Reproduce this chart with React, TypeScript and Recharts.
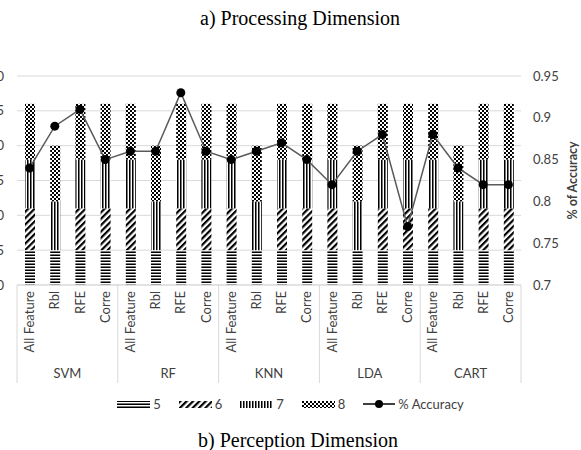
import React from 'react';
import { ComposedChart, Bar, Line, XAxis, YAxis, CartesianGrid, Legend } from 'recharts';

const groups = ['SVM', 'RF', 'KNN', 'LDA', 'CART'];
const methods = ['All Feature', 'Rbl', 'RFE', 'Corre'];

const seg5 = [5, 5, 5, 5, 5, 5, 5, 5, 5, 5, 5, 5, 5, 5, 5, 5, 5, 5, 5, 5];
const seg6 = [6, 0, 6, 6, 6, 0, 6, 6, 6, 0, 6, 6, 6, 0, 6, 6, 6, 0, 6, 6];
const seg7 = [7, 7, 7, 7, 7, 7, 7, 7, 7, 7, 7, 7, 7, 7, 7, 7, 7, 7, 7, 7];
const seg8 = [8, 8, 8, 8, 8, 8, 8, 8, 8, 8, 8, 8, 8, 8, 8, 8, 8, 8, 8, 8];
const accuracy = [
  0.84, 0.89, 0.91, 0.85,
  0.86, 0.86, 0.93, 0.86,
  0.85, 0.86, 0.87, 0.85,
  0.82, 0.86, 0.88, 0.77,
  0.88, 0.84, 0.82, 0.82,
];
const leftTicks = [0, 5, 10, 15, 20, 25, 30];
const rightTicks = [0.7, 0.75, 0.8, 0.85, 0.9, 0.95];

const data = accuracy.map((acc, i) => ({
  key: `${groups[Math.floor(i / 4)]}-${methods[i % 4]}`,
  group: groups[Math.floor(i / 4)],
  method: methods[i % 4],
  s5: seg5[i],
  s6: seg6[i],
  s7: seg7[i],
  s8: seg8[i],
  acc,
}));

const FONT = 'Lato, "Open Sans", sans-serif';
const TEXT = '#404040';

const CatTick = (props: any) => {
  const { x, y, payload, index } = props;
  const i = typeof index === 'number' ? index : payload.index;
  const half = payload && payload.offset ? payload.offset : 12.6;
  const row = data[i];
  if (!row) return null;
  const pos = i % 4;
  return (
    <g>
      <text
        transform={`translate(${x},${y + 6}) rotate(-90)`}
        textAnchor="end"
        dy="0.36em"
        fontSize={13}
        fontFamily={FONT}
        fill={TEXT}
      >
        {row.method}
      </text>
      {pos === 0 && <line x1={x - half} x2={x - half} y1={y} y2={y + 98} stroke="#d9d9d9" />}
      {pos === 3 && i === data.length - 1 && (
        <line x1={x + half} x2={x + half} y1={y} y2={y + 98} stroke="#d9d9d9" />
      )}
      {pos === 1 && (
        <text x={x + half} y={y + 93} textAnchor="middle" fontSize={13} fontFamily={FONT} fill={TEXT}>
          {row.group}
        </text>
      )}
    </g>
  );
};

const RightLabel = (props: any) => {
  const vb = props.viewBox || { x: 521, y: 76, width: 60, height: 209 };
  const cx = vb.x + vb.width - 9;
  const cy = vb.y + vb.height / 2;
  return (
    <text
      transform={`translate(${cx},${cy}) rotate(-90)`}
      textAnchor="middle"
      dy="0.36em"
      fontSize={12.5}
      fontWeight="bold"
      fontFamily={FONT}
      fill={TEXT}
    >
      % of Accuracy
    </text>
  );
};

const LegendContent = (props: any) => {
  const raw = props.payload || [];
  const payload = [...raw.filter((e: any) => e.type !== 'line'), ...raw.filter((e: any) => e.type === 'line')];
  return (
    <div style={{ display: 'flex', justifyContent: 'center', alignItems: 'center', fontFamily: FONT, fontSize: 13, color: TEXT }}>
      {payload.map((entry: any, k: number) => {
        const isLine = entry.type === 'line';
        return (
          <div key={k} style={{ display: 'flex', alignItems: 'center', marginRight: k === payload.length - 1 ? 0 : 18 }}>
            {isLine ? (
              <svg width={32} height={10} style={{ marginRight: 3 }}>
                <line x1={0} x2={32} y1={5} y2={5} stroke="#000" strokeWidth={1.5} />
                <circle cx={16} cy={5} r={4} fill="#000" />
              </svg>
            ) : (
              <svg width={33} height={7} style={{ marginRight: 3 }}>
                <rect x={0} y={0} width={33} height={7} fill={entry.color} />
              </svg>
            )}
            <span>{entry.value}</span>
          </div>
        );
      })}
    </div>
  );
};

const Patterns = () => (
  <svg width={0} height={0} style={{ position: 'absolute' }}>
    <defs>
      <pattern id="p5" width={4} height={3} patternUnits="userSpaceOnUse">
        <rect width={4} height={3} fill="#fff" />
        <rect y={0} width={4} height={1} fill="#000" />
        <rect y={2} width={4} height={1} fill="#777" />
      </pattern>
      <pattern id="p6" width={4.5} height={4.5} patternUnits="userSpaceOnUse" patternTransform="rotate(45)">
        <rect width={4.5} height={4.5} fill="#fff" />
        <rect x={0} width={2.2} height={4.5} fill="#000" />
      </pattern>
      <pattern id="p7" width={3} height={4} patternUnits="userSpaceOnUse">
        <rect width={3} height={4} fill="#fff" />
        <rect x={0} width={1} height={4} fill="#000" />
        <rect x={1} width={1} height={4} fill="#777" />
      </pattern>
      <pattern id="p8" width={4} height={4} patternUnits="userSpaceOnUse">
        <rect width={4} height={4} fill="#fff" />
        <rect x={0} y={0} width={2} height={2} fill="#000" />
        <rect x={2} y={2} width={2} height={2} fill="#000" />
      </pattern>
    </defs>
  </svg>
);

export default function App() {
  return (
    <div style={{ position: 'absolute', left: 0, top: 0, width: 581, height: 450, background: '#fff', overflow: 'hidden' }}>
      <Patterns />
      <ComposedChart
        width={581}
        height={450}
        data={data}
        margin={{ top: 76, right: 0, bottom: 67, left: 0 }}
        barSize={10}
      >
        <CartesianGrid yAxisId="left" vertical={false} stroke="#d9d9d9" />
        <XAxis
          dataKey="key"
          height={98}
          interval={0}
          tickLine={false}
          tickSize={0}
          tickMargin={0}
          axisLine={{ stroke: '#d9d9d9' }}
          tick={<CatTick />}
        />
        <YAxis
          yAxisId="left"
          orientation="left"
          width={17}
          domain={[0, 30]}
          ticks={leftTicks}
          axisLine={false}
          tickLine={false}
          tickSize={6}
          tickMargin={7}
          tick={{ fontSize: 13, fontFamily: FONT, fill: TEXT }}
        />
        <YAxis
          yAxisId="right"
          orientation="right"
          width={60}
          domain={[0.7, 0.95]}
          ticks={rightTicks}
          axisLine={false}
          tickLine={false}
          tickSize={6}
          tickMargin={6}
          tick={{ fontSize: 13, fontFamily: FONT, fill: TEXT, textAnchor: 'start' }}
          label={{ value: '% of Accuracy', content: RightLabel }}
        />
        <Bar yAxisId="left" dataKey="s5" name="5" stackId="a" fill="url(#p5)" isAnimationActive={false} />
        <Bar yAxisId="left" dataKey="s6" name="6" stackId="a" fill="url(#p6)" isAnimationActive={false} />
        <Bar yAxisId="left" dataKey="s7" name="7" stackId="a" fill="url(#p7)" isAnimationActive={false} />
        <Bar yAxisId="left" dataKey="s8" name="8" stackId="a" fill="url(#p8)" isAnimationActive={false} />
        <Line
          yAxisId="right"
          dataKey="acc"
          name="% Accuracy"
          type="linear"
          stroke="#5a5a5a"
          strokeWidth={1.5}
          dot={{ r: 4.5, fill: '#000', stroke: '#000', strokeWidth: 0 }}
          activeDot={false}
          isAnimationActive={false}
        />
        <Legend
          layout="horizontal"
          verticalAlign="middle"
          align="center"
          wrapperStyle={{ top: 396, left: 0, width: 581 }}
          content={LegendContent}
        />
      </ComposedChart>
      <svg width={581} height={450} style={{ position: 'absolute', left: 0, top: 0, pointerEvents: 'none' }}>
        <text x={300} y={25} textAnchor="middle" fontSize={20} fontFamily='"Liberation Serif", "Times New Roman", serif' fill="#000">
          a) Processing Dimension
        </text>
        <text x={298} y={447} textAnchor="middle" fontSize={20} fontFamily='"Liberation Serif", "Times New Roman", serif' fill="#000">
          b) Perception Dimension
        </text>
      </svg>
    </div>
  );
}
